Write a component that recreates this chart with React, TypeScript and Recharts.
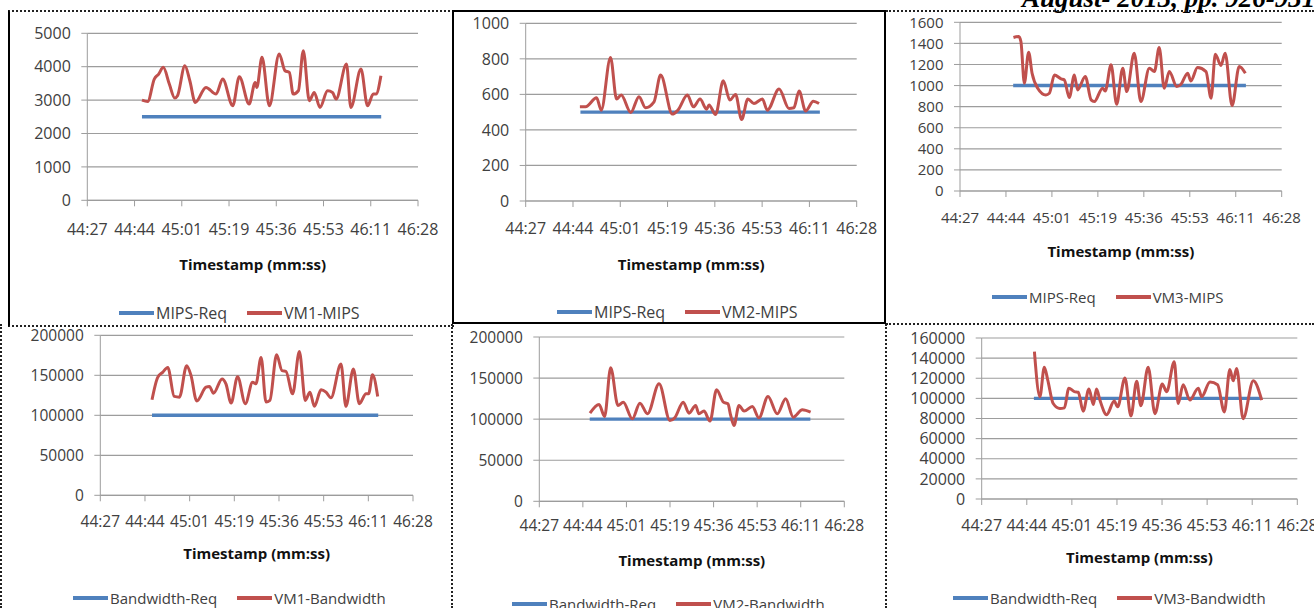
import { LineChart, Line, XAxis, YAxis, CartesianGrid, Legend, Label } from 'recharts';

// x axis: seconds since 00:00, shown as mm:ss
const xTicks = [2667, 2684.28, 2701.56, 2718.84, 2736.12, 2753.4, 2770.68, 2787.96];
const xTickLabels = ['44:27', '44:44', '45:01', '45:19', '45:36', '45:53', '46:11', '46:28'];
const reqSpan = [2687, 2774.5];

const mipsTicks12 = [0, 1000, 2000, 3000, 4000, 5000];
const mipsTicks2 = [0, 200, 400, 600, 800, 1000];
const mipsTicks3 = [0, 200, 400, 600, 800, 1000, 1200, 1400, 1600];
const bwTicks12 = [0, 50000, 100000, 150000, 200000];
const bwTicks3 = [0, 20000, 40000, 60000, 80000, 100000, 120000, 140000, 160000];

// [time (s), value]
const vm1Mips = [
  [2687.0, 3000], [2689.1, 2960], [2691.5, 3630], [2693.1, 3780], [2694.8, 3980], [2697.0, 3480],
  [2699.0, 3060], [2700.0, 3130], [2702.7, 4030], [2704.5, 3580], [2706.5, 2930], [2710.4, 3380],
  [2714.1, 3180], [2716.5, 3630], [2720.2, 2830], [2722.6, 3700], [2726.2, 2880], [2728.4, 3530],
  [2729.0, 3380], [2730.9, 4280], [2733.6, 2830], [2737.2, 4380], [2739.3, 3880], [2740.9, 3830],
  [2742.3, 3180], [2744.2, 3280], [2746.0, 4480], [2748.2, 2980], [2750.0, 3230], [2752.1, 2780],
  [2754.9, 3280], [2756.7, 3230], [2758.0, 3030], [2761.8, 4080], [2763.4, 2780], [2767.1, 3930],
  [2769.5, 2830], [2771.6, 3180], [2772.6, 3180], [2774.4, 3730],
];

const vm2Mips = [
  [2686.8, 530], [2688.9, 530], [2692.9, 581], [2694.6, 511], [2698.0, 808], [2700.2, 574],
  [2701.9, 596], [2705.4, 498], [2708.4, 587], [2710.8, 525], [2713.9, 558], [2716.3, 709],
  [2720.6, 489], [2722.6, 511], [2726.1, 596], [2728.3, 530], [2730.7, 574], [2733.1, 517],
  [2734.0, 540], [2736.4, 487], [2739.2, 677], [2741.6, 568], [2743.7, 600], [2745.9, 458],
  [2748.2, 574], [2750.4, 549], [2753.5, 574], [2755.3, 511], [2759.6, 630], [2763.2, 521],
  [2765.0, 525], [2766.9, 619], [2769.3, 506], [2772.1, 562], [2774.2, 549],
];

const vm3Mips = [
  [2687.1, 1456], [2689.1, 1466], [2689.9, 1418], [2691.2, 1022], [2692.8, 1317], [2694.1, 1117],
  [2696.2, 975], [2699.3, 911], [2700.6, 927], [2702.5, 1101], [2705.0, 1063], [2706.2, 1054],
  [2708.1, 886], [2710.0, 1101], [2711.2, 959], [2714.1, 1086], [2716.3, 864], [2717.5, 848],
  [2720.6, 975], [2721.6, 949], [2723.8, 1197], [2725.9, 822], [2728.2, 1165], [2729.7, 943],
  [2732.5, 1307], [2735.0, 848], [2738.2, 1165], [2740.1, 1133], [2741.9, 1361], [2743.8, 975],
  [2745.7, 1133], [2748.5, 990], [2750.1, 1013], [2752.6, 1117], [2753.8, 1044], [2756.3, 1171],
  [2759.5, 1133], [2761.4, 880], [2763.0, 1298], [2765.1, 1190], [2766.7, 1307], [2769.3, 810],
  [2772.0, 1181], [2774.3, 1117],
];

const vm1Bw = [
  [2687.0, 119400], [2689.2, 147500], [2691.1, 153700], [2693.1, 159900], [2695.6, 123600],
  [2697.6, 122700], [2700.4, 162000], [2702.1, 149600], [2704.3, 117800], [2707.9, 135100],
  [2709.2, 136000], [2710.8, 127700], [2714.1, 145500], [2715.6, 139300], [2717.6, 115300],
  [2720.1, 148300], [2723.1, 114500], [2725.9, 141300], [2727.2, 139300], [2729.2, 172300],
  [2731.1, 116500], [2732.6, 118600], [2735.2, 175600], [2737.3, 155800], [2738.8, 155000],
  [2741.4, 126900], [2744.0, 179700], [2746.3, 118600], [2748.1, 128900], [2749.8, 111200],
  [2752.4, 131800], [2754.3, 128900], [2756.2, 121900], [2760.1, 164000], [2762.0, 111200],
  [2764.9, 157900], [2767.2, 114500], [2769.8, 126900], [2770.8, 126900], [2772.3, 150800],
  [2774.3, 123600],
];

const vm2Bw = [
  [2687.1, 107300], [2690.7, 117900], [2692.9, 103300], [2695.3, 162600], [2698.2, 116700],
  [2700.3, 120700], [2703.9, 100400], [2706.9, 119500], [2709.9, 106500], [2714.5, 143100],
  [2718.8, 98400], [2720.7, 101600], [2724.1, 120700], [2726.4, 107300], [2729.0, 116700],
  [2730.3, 106500], [2732.3, 109800], [2734.7, 97600], [2737.3, 135800], [2740.0, 120700],
  [2741.8, 118700], [2742.9, 104500], [2744.2, 92300], [2746.2, 116700], [2748.2, 109800],
  [2751.5, 115400], [2754.1, 101600], [2757.7, 127600], [2761.4, 106500], [2764.7, 124800],
  [2767.7, 102400], [2771.3, 111400], [2774.6, 108500],
];

const vm3Bw = [
  [2687.2, 146500], [2689.3, 101700], [2691.0, 131000], [2692.3, 118500], [2694.4, 94900],
  [2697.0, 89900], [2698.7, 90600], [2700.4, 110100], [2702.5, 106700], [2704.0, 106100],
  [2705.9, 87200], [2708.1, 109400], [2709.8, 93900], [2711.0, 109400], [2712.3, 98300],
  [2714.9, 83800], [2717.8, 97300], [2719.1, 91600], [2721.9, 120200], [2724.2, 82500],
  [2726.4, 116900], [2728.0, 92600], [2730.8, 131000], [2733.4, 84800], [2736.2, 114200],
  [2737.9, 106700], [2740.8, 136400], [2742.3, 94900], [2744.2, 113500], [2746.8, 98300],
  [2750.0, 110100], [2751.3, 101700], [2754.5, 116200], [2757.4, 113500], [2760.0, 86500],
  [2762.1, 128600], [2763.4, 117500], [2764.7, 129700], [2767.2, 79800], [2771.1, 117500],
  [2774.3, 98300],
];

const BLUE = '#4F81BD';
const RED = '#C0504D';
const GRID = '#9d9d9d';

const panels = [
  {
    box: { l: 10, t: 12, r: 450, b: 323 }, plot: { l: 87.3, r: 418, t: 33.3, b: 200.3 },
    yMax: 5000, yTicks: mipsTicks12, req: 2500, reqName: 'MIPS-Req', vmName: 'VM1-MIPS', pts: vm1Mips,
    fs: 16, xMargin: 17, titleOffset: 59.5, legend: { x: 119, y: 313, fs: 16 },
  },
  {
    box: { l: 454, t: 13, r: 884, b: 322 }, plot: { l: 525.7, r: 856.7, t: 23.3, b: 201 },
    yMax: 1000, yTicks: mipsTicks2, req: 500, reqName: 'MIPS-Req', vmName: 'VM2-MIPS', pts: vm2Mips,
    fs: 16, xMargin: 15.6, titleOffset: 58.3, legend: { x: 557, y: 312, fs: 16 },
  },
  {
    box: { l: 887, t: 12, r: 1314, b: 322 }, plot: { l: 960, r: 1281.7, t: 22.3, b: 191 },
    yMax: 1600, yTicks: mipsTicks3, req: 1000, reqName: 'MIPS-Req', vmName: 'VM3-MIPS', pts: vm3Mips,
    fs: 15, xMargin: 15.7, titleOffset: 55, legend: { x: 992, y: 297, fs: 15 },
  },
  {
    box: { l: 2, t: 326, r: 450, b: 608 }, plot: { l: 100.3, r: 413, t: 335.3, b: 495.3 },
    yMax: 200000, yTicks: bwTicks12, req: 100000, reqName: 'Bandwidth-Req', vmName: 'VM1-Bandwidth', pts: vm1Bw,
    fs: 15.5, xMargin: 14.7, titleOffset: 53.3, legend: { x: 73, y: 598, fs: 15 },
  },
  {
    box: { l: 453, t: 326, r: 884, b: 608 }, plot: { l: 539.3, r: 844.3, t: 337, b: 501.3 },
    yMax: 200000, yTicks: bwTicks12, req: 100000, reqName: 'Bandwidth-Req', vmName: 'VM2-Bandwidth', pts: vm2Bw,
    fs: 15.5, xMargin: 13, titleOffset: 54, legend: { x: 512, y: 604, fs: 15 },
  },
  {
    box: { l: 887, t: 326, r: 1314, b: 608 }, plot: { l: 981.7, r: 1297.3, t: 338, b: 499 },
    yMax: 160000, yTicks: bwTicks3, req: 100000, reqName: 'Bandwidth-Req', vmName: 'VM3-Bandwidth', pts: vm3Bw,
    fs: 16, xMargin: 14.6, titleOffset: 53, legend: { x: 953, y: 598, fs: 15 },
  },
];

function Panel({ cfg }: { cfg: any }) {
  const { box, plot, yMax, yTicks, req, reqName, vmName, pts, fs, xMargin, titleOffset, legend } = cfg;
  const reqData = reqSpan.map((t) => ({ t, v: req }));
  const vmData = pts.map(([t, v]: number[]) => ({ t, v }));

  const renderLegend = (props: any) => (
    <div style={{ display: 'flex', alignItems: 'center', whiteSpace: 'nowrap', fontSize: legend.fs, lineHeight: '20px', color: '#404040' }}>
      {(props.payload || []).map((p: any, i: number) => (
        <span key={i} style={{ display: 'flex', alignItems: 'center', marginLeft: i ? 20 : 0 }}>
          <span style={{ display: 'inline-block', width: 35, height: 4, background: p.color, marginRight: 2 }} />
          {p.value}
        </span>
      ))}
    </div>
  );

  return (
    <div style={{ position: 'absolute', left: box.l, top: box.t }}>
      <LineChart
        width={box.r - box.l}
        height={box.b - box.t}
        margin={{ top: plot.t - box.t, right: box.r - plot.r, left: 0, bottom: 0 }}
      >
        <CartesianGrid vertical={false} stroke={GRID} strokeWidth={1.2} />
        <XAxis
          type="number"
          dataKey="t"
          domain={[xTicks[0], xTicks[xTicks.length - 1]]}
          ticks={xTicks}
          interval={0}
          allowDataOverflow
          tickFormatter={(v: number, i: number) => xTickLabels[i]}
          height={box.b - plot.b}
          tickSize={6}
          tickMargin={xMargin}
          stroke={GRID}
          tick={{ fill: '#404040', fontSize: fs }}
        >
          <Label value="Timestamp (mm:ss)" position="insideTop" offset={titleOffset} fontSize={15} fontWeight={700} fill="#111" />
        </XAxis>
        <YAxis
          type="number"
          domain={[0, yMax]}
          ticks={yTicks}
          interval={0}
          width={plot.l - box.l}
          tickSize={6}
          tickMargin={10.5}
          stroke={GRID}
          tick={{ fill: '#404040', fontSize: fs }}
        />
        <Legend
          layout="vertical"
          align="center"
          verticalAlign="middle"
          content={renderLegend}
          wrapperStyle={{ left: legend.x - box.l, top: legend.y - box.t - 10, width: 'auto', height: 'auto' }}
        />
        <Line data={reqData} dataKey="v" name={reqName} type="linear" stroke={BLUE} strokeWidth={3.4} dot={false} activeDot={false} isAnimationActive={false} />
        <Line data={vmData} dataKey="v" name={vmName} type="monotone" stroke={RED} strokeWidth={3} dot={false} activeDot={false} isAnimationActive={false} />
      </LineChart>
    </div>
  );
}

export default function App() {
  const dotted = '2px dotted #222';
  return (
    <div style={{ position: 'absolute', left: 0, top: 0, width: 1314, height: 608, overflow: 'hidden', background: '#fff', fontFamily: '"Open Sans", sans-serif' }}>
      <div style={{ position: 'absolute', left: 1022, top: -15, fontFamily: '"Liberation Serif", serif', fontStyle: 'italic', fontWeight: 700, fontSize: 27, lineHeight: '27px', whiteSpace: 'nowrap' }}>
        August- 2013, pp. 926-931
      </div>
      {/* cell frames */}
      <div style={{ position: 'absolute', left: 8, top: 10, width: 444, height: 313, borderLeft: '2px solid #000', borderTop: dotted, borderBottom: dotted }} />
      <div style={{ position: 'absolute', left: 452, top: 10, width: 430, height: 310, border: '2px solid #000' }} />
      <div style={{ position: 'absolute', left: 886, top: 10, width: 428, height: 311, borderTop: dotted, borderBottom: dotted }} />
      <div style={{ position: 'absolute', left: 0, top: 324, width: 1314, height: 284, borderLeft: dotted }} />
      <div style={{ position: 'absolute', left: 451, top: 324, width: 432, height: 284, borderLeft: dotted, borderRight: dotted }} />
      {panels.map((cfg, i) => (
        <Panel key={i} cfg={cfg} />
      ))}
    </div>
  );
}
